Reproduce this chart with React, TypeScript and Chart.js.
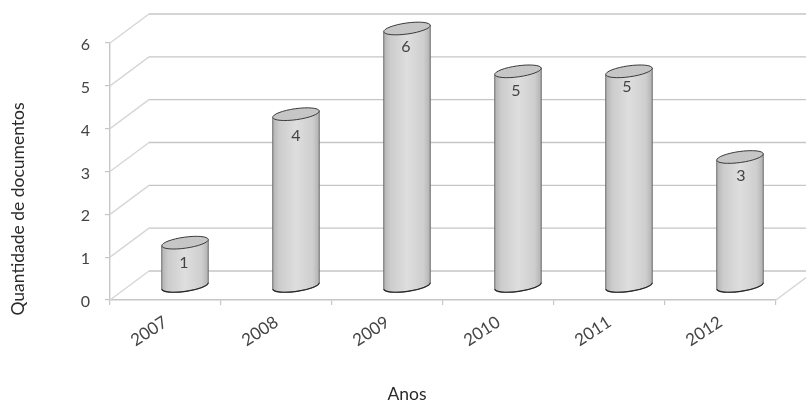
import React, { useEffect, useRef } from "react";
import { Chart, registerables } from "chart.js";

Chart.register(...registerables);

const years = ["2007", "2008", "2009", "2010", "2011", "2012"];
const documentCounts = [1, 4, 6, 5, 5, 3];
const yTicks = [0, 1, 2, 3, 4, 5, 6];
const yTitle = "Quantidade de documentos";
const xTitle = "Anos";

const FONT = "Lato, Carlito, sans-serif";
const TEXT = "#444444";
const TITLE = "#2a2a2a";
const GRID = "#c6c6c6";
const DIAGONAL = "#d6d6d6";
const WALL_DX = 39;
const WALL_DY = -29;

// Hand-placed value labels sit slightly off the cylinder axis.
const LABEL_SHIFT_X = [-1, 0, -1, -2, -2, 1];
const LABEL_DROP = [20, 21.5, 18.5, 19.5, 16, 19];

// Back-wall gridlines and side-wall diagonals that give the plot its depth.
const wallPlugin = {
  id: "wall",
  beforeDatasetsDraw(chart: any) {
    const { ctx, scales, width } = chart;
    const y = scales.y;
    const left = scales.x.left;
    const right = scales.x.right;
    ctx.save();
    ctx.lineWidth = 1.4;
    for (const v of yTicks) {
      const py = y.getPixelForValue(v);
      ctx.strokeStyle = DIAGONAL;
      ctx.beginPath();
      ctx.moveTo(left, py);
      ctx.lineTo(left + WALL_DX, py + WALL_DY);
      ctx.stroke();
      ctx.strokeStyle = GRID;
      ctx.beginPath();
      ctx.moveTo(left + WALL_DX, py + WALL_DY);
      ctx.lineTo(width, py + WALL_DY);
      ctx.stroke();
    }
    const floor = y.getPixelForValue(0);
    ctx.strokeStyle = DIAGONAL;
    ctx.beginPath();
    ctx.moveTo(right, floor);
    ctx.lineTo(right + WALL_DX, floor + WALL_DY);
    ctx.stroke();
    ctx.restore();
  },
};

// Each bar element is repainted as a tilted cylinder, with its value on the front.
const cylinderPlugin = {
  id: "cylinder",
  afterDatasetsDraw(chart: any) {
    const { ctx } = chart;
    const meta = chart.getDatasetMeta(0);
    const tilt = (-8 * Math.PI) / 180;
    const dx = WALL_DX / 2;
    const dy = WALL_DY / 2;
    meta.data.forEach((bar: any, i: number) => {
      const cx = bar.x + dx;
      const top = bar.y + dy;
      const bottom = bar.base + dy + 1;
      const rx = bar.width / 2;
      const ry = 5.5;
      const sideY = rx * Math.sin(tilt);
      const sideX = rx * Math.cos(tilt);

      ctx.save();
      const body = ctx.createLinearGradient(cx - sideX, 0, cx + sideX, 0);
      body.addColorStop(0, "#b4b4b4");
      body.addColorStop(0.14, "#cccccc");
      body.addColorStop(0.5, "#dedede");
      body.addColorStop(0.86, "#cecece");
      body.addColorStop(1, "#b2b2b2");

      ctx.beginPath();
      ctx.moveTo(cx - sideX, top - sideY);
      ctx.lineTo(cx - sideX, bottom - sideY);
      ctx.ellipse(cx, bottom, rx, ry, tilt, Math.PI, 0, true);
      ctx.lineTo(cx + sideX, top + sideY);
      ctx.closePath();
      ctx.fillStyle = body;
      ctx.fill();

      ctx.strokeStyle = "#6a6a6a";
      ctx.lineWidth = 1;
      ctx.stroke();

      ctx.beginPath();
      ctx.ellipse(cx, bottom, rx, ry, tilt, Math.PI, 0, true);
      ctx.strokeStyle = "#262626";
      ctx.lineWidth = 1.2;
      ctx.stroke();

      ctx.beginPath();
      ctx.ellipse(cx, top, rx, ry, tilt, 0, Math.PI * 2);
      ctx.fillStyle = "#c6c6c6";
      ctx.fill();
      ctx.strokeStyle = "#3a3a3a";
      ctx.lineWidth = 1;
      ctx.stroke();

      ctx.fillStyle = TEXT;
      ctx.font = `16px ${FONT}`;
      ctx.textAlign = "center";
      ctx.textBaseline = "middle";
      ctx.fillText(String(documentCounts[i]), cx + LABEL_SHIFT_X[i], top + LABEL_DROP[i]);
      ctx.restore();
    });
  },
};

// Axis titles sit off-centre from the plot, so they are placed here rather than by the scales.
const axisTitlePlugin = {
  id: "axisTitles",
  afterDraw(chart: any) {
    const { ctx } = chart;
    ctx.save();
    ctx.fillStyle = TITLE;
    ctx.font = `17.5px ${FONT}`;
    ctx.textAlign = "center";
    ctx.textBaseline = "middle";
    ctx.fillText(xTitle, 407, 394);
    ctx.translate(18, 209);
    ctx.rotate(-Math.PI / 2);
    ctx.fillText(yTitle, 0, 0);
    ctx.restore();
  },
};

export default function App() {
  const canvasRef = useRef<HTMLCanvasElement>(null);

  useEffect(() => {
    const chart = new Chart(canvasRef.current!, {
      type: "bar",
      data: {
        labels: years,
        datasets: [
          {
            data: documentCounts,
            backgroundColor: "transparent",
            borderWidth: 0,
            barPercentage: 0.65,
            categoryPercentage: 0.65,
          },
        ],
      },
      options: {
        responsive: false,
        animation: false,
        layout: { padding: { top: 43, right: 30, left: 0, bottom: 0 } },
        plugins: { legend: { display: false }, tooltip: { enabled: false } },
        scales: {
          x: {
            afterFit(scale: any) {
              scale.height = 101;
            },
            grid: {
              offset: true,
              drawOnChartArea: false,
              drawTicks: true,
              tickLength: 5,
              color: GRID,
              lineWidth: 1.2,
            },
            border: { display: true, color: GRID, width: 1.4 },
            ticks: {
              minRotation: 33,
              maxRotation: 33,
              padding: 7,
              color: TEXT,
              font: { family: FONT, size: 17 },
            },
          },
          y: {
            min: 0,
            max: 6,
            afterFit(scale: any) {
              scale.width = 110;
            },
            ticks: {
              stepSize: 1,
              padding: 15,
              labelOffset: 2,
              color: TEXT,
              font: { family: FONT, size: 16 },
            },
            grid: {
              drawOnChartArea: false,
              drawTicks: true,
              tickLength: 5,
              color: GRID,
              lineWidth: 1.2,
            },
            border: { display: true, color: GRID, width: 1.4 },
          },
        },
      },
      plugins: [wallPlugin, cylinderPlugin, axisTitlePlugin],
    } as any);
    return () => chart.destroy();
  }, []);

  return (
    <canvas
      ref={canvasRef}
      width={806}
      height={401}
      style={{ position: "fixed", left: 0, top: 0, display: "block" }}
    />
  );
}
